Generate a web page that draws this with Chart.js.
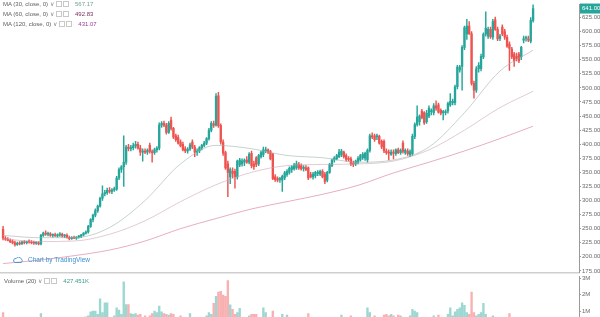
<!DOCTYPE html>
<html>
<head>
<meta charset="utf-8">
<script src="https://cdn.jsdelivr.net/npm/chart.js@4.4.1/dist/chart.umd.min.js"></script>
<style>
  html, body { margin: 0; padding: 0; background: #fff; overflow: hidden; }
  #wrap { position: relative; width: 600px; height: 317px; overflow: hidden; font-family: "Liberation Sans", Arial, sans-serif; }
  #price { position: absolute; left: 0; top: 0; }
  #vol { position: absolute; left: 0; top: 272px; }
  .leg { position: absolute; left: 3px; font-size: 6px; line-height: 7px; color: #5d5d5d; white-space: nowrap; }
  .leg .chev { margin: 0 2px; color: #888; }
  .leg .box { display: inline-block; width: 4px; height: 4px; border: 1px solid #c8c8c8; margin-right: 1px; vertical-align: -1px; }
  .leg .val { margin-left: 5px; }
  #wm { position: absolute; left: 13px; top: 256px; font-size: 6.5px; color: #3c8fd0; white-space: nowrap; }
</style>
</head>
<body>
<div id="wrap">
  <canvas id="vol" width="600" height="60"></canvas>
  <canvas id="price" width="600" height="280"></canvas>
  <div class="leg" style="top:1px">MA (30, close, 0)<span class="chev">&#8744;</span><span class="box"></span><span class="box"></span><span class="val" id="v30" style="color:#6f9f93"></span></div>
  <div class="leg" style="top:11px">MA (60, close, 0)<span class="chev">&#8744;</span><span class="box"></span><span class="box"></span><span class="val" id="v60" style="color:#7a2c5c"></span></div>
  <div class="leg" style="top:21px">MA (120, close, 0)<span class="chev">&#8744;</span><span class="box"></span><span class="box"></span><span class="val" id="v120" style="color:#9a3f9a"></span></div>
  <div id="wm"><svg width="10" height="6" viewBox="0 0 10 6" style="vertical-align:-1px;margin-right:5px"><path d="M2 5.5 H8 A2 2 0 0 0 8 1.8 A2.6 2.6 0 0 0 3.2 1.6 A2 2 0 0 0 2 5.5 Z" fill="none" stroke="#3c8fd0" stroke-width="0.9"/></svg>Chart by TradingView</div>
  <div class="leg" style="top:278px;left:4px">Volume (20)<span class="chev">&#8744;</span><span class="box"></span><span class="box"></span><span class="val" id="vv" style="color:#3a9c8c"></span></div>
</div>
<script>
// OHLC per bar
const opens = [249,233,231,229,227,225,222,224,223,226,225,227,226,225,224,225,223,238,242,240,241,238,239,237,239,240,237,238,234,232,234,233,235,236,239,242,244,254,266,274,282,290,304,312,314,318,316,319,320,340,355,360,368,395,392,394,397,400,393,386,388,386,398,387,385,390,393,434,437,434,421,443,428,415,412,404,400,392,388,391,404,395,386,388,394,398,402,410,425,436,434,486,433,404,385,365,342,352,352,342,363,365,368,372,368,384,365,376,365,378,382,388,390,387,382,342,339,337,336,340,346,350,355,356,358,364,362,357,358,358,346,342,344,348,347,352,347,336,350,362,372,374,378,381,386,380,375,374,366,365,368,372,376,375,372,389,415,415,413,414,405,405,388,386,382,386,383,390,385,402,385,388,381,383,414,435,440,459,456,440,450,458,456,468,470,460,456,456,459,470,474,474,502,532,538,572,596,610,596,508,496,534,534,555,596,592,604,590,621,604,588,608,600,590,578,569,560,556,560,555,585,588,587,583,620];
const highs = [254,236,234,232,230,228,226,227,228,229,228,230,229,228,227,227,240,244,246,244,243,241,242,241,243,242,240,241,237,236,237,236,238,240,243,246,256,268,276,285,292,306,326,318,322,323,321,324,343,358,362,415,398,400,398,402,405,404,398,392,392,392,402,390,393,396,438,440,441,437,440,448,430,418,416,408,404,396,394,402,408,398,392,396,400,405,412,428,440,441,490,492,436,408,388,370,358,358,356,372,375,374,374,378,385,388,370,378,382,388,395,395,392,389,384,346,342,341,345,352,355,360,362,366,370,368,365,362,362,360,350,350,352,353,354,355,350,352,366,374,378,382,391,391,388,383,378,377,370,372,378,382,385,386,392,418,420,418,418,416,408,408,392,390,390,390,392,393,392,406,392,392,390,418,438,468,452,462,458,460,468,463,472,477,473,463,460,461,475,490,480,505,540,540,575,610,622,618,600,512,538,545,560,598,635,608,608,622,626,608,595,612,604,594,582,572,563,562,563,574,592,592,592,625,650];
const lows = [230,229,228,225,223,219,220,221,222,223,223,224,223,222,222,221,221,236,238,237,236,235,236,235,236,235,234,233,230,231,232,231,233,234,237,240,242,252,262,271,279,288,300,308,311,313,312,316,318,337,350,325,364,388,388,390,393,391,380,370,383,382,384,368,382,386,390,430,431,418,419,425,410,405,400,395,388,385,384,389,392,378,380,385,390,395,399,407,422,430,432,430,400,380,355,307,330,340,322,338,360,361,362,366,365,358,355,360,362,375,378,385,383,372,337,334,333,332,316,337,343,347,350,354,355,355,354,352,353,337,340,338,340,344,344,340,330,333,348,360,368,372,376,378,375,370,370,362,360,362,365,370,373,371,368,386,410,405,408,400,392,385,382,372,380,374,380,383,382,384,382,380,378,380,410,432,434,445,435,437,447,452,452,460,455,452,443,452,455,467,470,470,498,528,496,568,586,595,505,482,492,528,530,552,592,588,588,586,602,584,584,593,586,572,531,552,538,548,545,550,580,583,582,580,617];
const closes = [233,231,229,227,225,222,224,223,226,225,227,226,225,224,225,223,238,242,240,241,238,239,237,239,240,237,238,234,232,234,233,235,236,239,242,244,254,266,274,282,290,304,312,314,318,316,319,320,340,355,360,368,395,392,394,397,400,393,386,388,386,389,387,385,390,393,434,437,434,421,437,428,413,408,402,397,390,388,391,399,395,386,388,394,398,402,410,425,437,434,485,433,404,384,358,350,355,348,342,370,372,370,372,368,382,362,360,364,380,385,390,390,386,374,339,337,336,339,343,349,352,357,360,363,365,358,356,358,355,340,342,347,350,350,352,342,334,350,364,372,376,380,386,388,378,373,373,365,364,370,375,380,382,384,389,415,413,408,414,402,395,388,385,384,386,384,390,385,389,387,389,383,387,414,435,448,450,447,438,455,464,459,468,464,457,455,458,458,472,476,476,502,537,537,572,607,610,596,508,496,534,540,556,595,606,604,591,618,604,587,592,596,590,574,570,555,548,552,548,572,587,590,585,620,641];
// volume in millions
const volumes = [0.9,0.5,0.45,0.4,0.5,0.55,0.4,0.35,0.45,0.4,0.5,0.35,0.4,0.45,0.4,0.5,0.84,0.6,0.5,0.4,0.45,0.35,0.4,0.5,0.45,0.4,0.35,0.5,0.55,0.4,0.45,0.4,0.5,0.55,0.6,0.65,0.7,0.95,1.0,1.0,0.8,1.74,0.9,1.5,1.5,0.6,0.6,0.7,1.2,1.05,0.8,2.78,1.4,1.4,0.85,0.8,0.85,0.75,0.8,0.6,0.7,0.6,0.7,0.85,1.0,0.9,1.3,0.95,0.85,0.8,0.75,0.85,0.8,0.5,0.6,0.7,0.6,0.55,0.5,0.85,0.6,0.6,0.5,0.5,0.6,0.5,0.7,0.9,0.8,1.47,1.9,2.15,2.2,1.97,1.9,2.85,1.37,1.1,0.8,0.9,1.17,0.6,0.5,0.5,0.7,0.8,0.8,0.8,0.6,0.6,1.2,0.9,0.5,0.6,1.0,0.6,0.5,0.5,0.8,0.6,0.75,0.5,0.6,0.5,0.45,0.5,0.4,0.45,0.5,0.85,0.5,0.45,0.4,0.5,0.45,0.5,0.6,0.55,0.5,0.45,0.5,0.5,0.55,0.75,0.5,0.45,0.5,0.7,0.5,0.45,0.5,0.55,0.5,0.6,1.2,0.9,0.6,0.7,0.5,0.6,0.55,0.75,0.8,0.7,0.8,0.7,0.6,0.75,0.7,0.6,0.5,0.6,0.7,1.1,1.0,0.9,0.6,0.55,0.5,0.6,0.55,0.5,0.7,0.6,0.75,0.5,0.55,0.6,0.8,1.2,0.7,0.95,1.1,1.2,1.5,1.35,0.9,0.8,2.15,0.9,0.7,0.8,0.9,1.47,0.8,0.6,0.55,0.7,0.6,0.5,0.55,0.6,0.5,0.6,0.85,0.5,0.6,0.45,0.5,0.55,0.5,0.45,0.5,0.6,0.43];
// moving averages at these bar indices
const maIndex = [0, 15, 30, 45, 60, 75, 90, 105, 120, 135, 150, 165, 180, 195, 210, 224];
const ma30  = [238, 234, 234, 252, 300, 365, 398, 392, 380, 376, 368, 372, 395, 456, 530, 567];
const ma60  = [232, 227, 228, 240, 264, 298, 328, 350, 362, 364, 365, 370, 390, 425, 465, 494];
const ma120 = [188, 194, 202, 212, 228, 250, 268, 285, 298, 311, 327, 349, 368, 388, 410, 432];
const priceTicks = [175, 200, 225, 250, 275, 300, 325, 350, 375, 400, 425, 450, 475, 500, 525, 550, 575, 600, 625];
const volumeTicks = [1, 2, 3];
const lastValues = { ma30: '567.17', ma60: '492.83', ma120: '431.07', volume: '427.451K' };

const UP = '#26a69a';
const DOWN = '#ef5350';
const dir = closes.map((c, i) => c >= opens[i]);

document.getElementById('v30').textContent = lastValues.ma30;
document.getElementById('v60').textContent = lastValues.ma60;
document.getElementById('v120').textContent = lastValues.ma120;
document.getElementById('vv').textContent = lastValues.volume;

const X_MIN = -1.3, X_MAX = 243.4, AXIS_W = 21;

function fixWidth(scale) { scale.width = AXIS_W; }

const maLine = (vals, color) => ({
  type: 'line',
  data: maIndex.map((ix, k) => ({ x: ix, y: vals[k] })),
  borderColor: color,
  borderWidth: 1,
  pointRadius: 0,
  cubicInterpolationMode: 'monotone',
  order: 0
});

const badge = {
  id: 'badge',
  afterDraw(chart) {
    const { ctx, scales } = chart;
    const y = scales.y.getPixelForValue(closes[closes.length - 1]);
    ctx.save();
    ctx.fillStyle = UP;
    ctx.fillRect(580, y - 5, 20, 10);
    ctx.fillStyle = '#fff';
    ctx.font = '6px "Liberation Sans", Arial, sans-serif';
    ctx.textBaseline = 'middle';
    ctx.fillText(closes[closes.length - 1].toFixed(2), 582, y);
    ctx.restore();
  }
};

new Chart(document.getElementById('price'), {
  data: {
    datasets: [
      maLine(ma30, 'rgba(150,175,170,0.55)'),
      maLine(ma60, 'rgba(200,160,180,0.55)'),
      maLine(ma120, 'rgba(215,120,150,0.6)'),
      {
        type: 'bar',
        data: closes.map((c, i) => ({ x: i, y: [lows[i], highs[i]] })),
        backgroundColor: dir.map(u => u ? UP : DOWN),
        barThickness: 0.8,
        grouped: false,
        order: 2
      },
      {
        type: 'bar',
        data: closes.map((c, i) => ({ x: i, y: [opens[i], c] })),
        backgroundColor: dir.map(u => u ? UP : DOWN),
        barThickness: 1.7,
        minBarLength: 1,
        grouped: false,
        order: 1
      }
    ]
  },
  options: {
    responsive: false,
    animation: false,
    layout: { padding: { bottom: 8 } },
    plugins: { legend: { display: false }, tooltip: { enabled: false } },
    scales: {
      x: { type: 'linear', min: X_MIN, max: X_MAX, offset: false, display: false },
      y: {
        position: 'right', min: 173, max: 648,
        afterFit: fixWidth,
        afterBuildTicks: s => { s.ticks = priceTicks.map(v => ({ value: v })); },
        grid: { drawOnChartArea: false, drawTicks: true, tickLength: 2, color: '#9a9a9a' },
        border: { color: '#9a9a9a' },
        ticks: { padding: 1, color: '#6a6a6a', font: { size: 6, family: '"Liberation Sans", Arial, sans-serif' }, callback: v => v.toFixed(2) }
      }
    }
  },
  plugins: [badge]
});

const separator = {
  id: 'separator',
  afterDraw(chart) {
    const { ctx } = chart;
    ctx.save();
    ctx.strokeStyle = '#cfcfcf';
    ctx.lineWidth = 1.5;
    ctx.beginPath();
    ctx.moveTo(0, 0.75);
    ctx.lineTo(580, 0.75);
    ctx.stroke();
    ctx.restore();
  }
};

new Chart(document.getElementById('vol'), {
  type: 'bar',
  data: {
    datasets: [{
      data: volumes.map((v, i) => ({ x: i, y: v })),
      backgroundColor: dir.map(u => u ? 'rgba(38,166,154,0.45)' : 'rgba(239,83,80,0.45)'),
      barThickness: 1.7
    }]
  },
  options: {
    responsive: false,
    animation: false,
    layout: { padding: 0 },
    plugins: { legend: { display: false }, tooltip: { enabled: false } },
    scales: {
      x: { type: 'linear', min: X_MIN, max: X_MAX, offset: false, display: false },
      y: {
        position: 'right', min: 0, max: 3.1,
        afterFit: fixWidth,
        afterBuildTicks: s => { s.ticks = volumeTicks.map(v => ({ value: v })); },
        grid: { drawOnChartArea: false, drawTicks: true, tickLength: 2, color: '#9a9a9a' },
        border: { color: '#9a9a9a' },
        ticks: { padding: 1, color: '#6a6a6a', font: { size: 6, family: '"Liberation Sans", Arial, sans-serif' }, callback: v => v + 'M' }
      }
    }
  },
  plugins: [separator]
});
</script>
</body>
</html>
